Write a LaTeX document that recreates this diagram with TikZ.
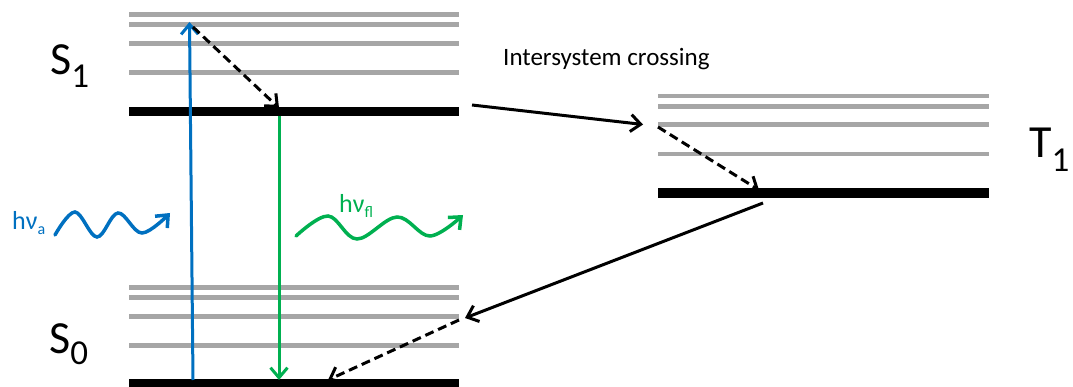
\documentclass[tikz,border=0pt]{standalone}
\usepackage{fontspec}
\setmainfont{Carlito}
\usetikzlibrary{arrows.meta}
\definecolor{lvlgray}{RGB}{166,166,166}
\definecolor{absblue}{RGB}{0,112,192}
\definecolor{flgreen}{RGB}{0,176,80}
\begin{document}
\begin{tikzpicture}[x=1pt,y=-1pt,
  graylevel/.style={draw=lvlgray,line width=4.5pt},
  mainlevel/.style={draw=black,line width=9.5pt},
  tipbarb/.style={-{Straight Barb[length=10pt,width=17pt]}},
  arr/.style={tipbarb,line width=3pt},
  dasharr/.style={tipbarb,line width=3pt,dash pattern=on 9pt off 5pt},
  bluearr/.style={tipbarb,line width=3pt,draw=absblue},
  greenarr/.style={tipbarb,line width=3pt,draw=flgreen},
  wave/.style={tipbarb,line width=3.5pt,line cap=round},
  lab/.style={anchor=base west,inner sep=0pt}
]
\useasboundingbox (0,0) rectangle (1073,387);

% S1 manifold
\foreach \yy in {14.5,24.5,43.5,72.5} \draw[graylevel] (129,\yy) -- (459,\yy);
\draw[mainlevel] (129,111.5) -- (459,111.5);
% S0 manifold
\foreach \yy in {287.5,297.5,316.5,345.5} \draw[graylevel] (129,\yy) -- (459,\yy);
\draw[mainlevel] (129,384) -- (459,384);
% T1 manifold
\foreach \yy in {96,106.5,124.5,154} \draw[graylevel] (658,\yy) -- (989,\yy);
\draw[mainlevel] (658,193) -- (989,193);

% labels
\node[lab] (S1lab) at (50,75) {\fontsize{46}{46}\selectfont S\raisebox{-13pt}{\fontsize{35}{35}\selectfont 1}};
\node[lab] (S0lab) at (49,353) {\fontsize{46}{46}\selectfont S\raisebox{-11pt}{\fontsize{35}{35}\selectfont 0}};
\node[lab] (T1lab) at (1029,158) {\fontsize{46}{46}\selectfont T\raisebox{-14pt}{\fontsize{35}{35}\selectfont 1}};
\node[lab] (isc) at (503,66) {\fontsize{25}{25}\selectfont Intersystem crossing};
\node[lab,text=absblue] (hva) at (12,230) {\fontsize{26}{26}\selectfont hν\raisebox{-5pt}{\fontsize{16}{16}\selectfont a}};
\node[lab,text=flgreen] (hvfl) at (339,213) {\fontsize{26}{26}\selectfont hν\raisebox{-5pt}{\fontsize{16}{16}\selectfont fl}};

% coordinates for transitions
\coordinate (absS) at (193,380);
\coordinate (absE) at (189.5,22);
\coordinate (vrS) at (193,27);
\coordinate (vrE) at (279,108);
\coordinate (flS) at (279,116);
\coordinate (flE) at (279,380);
\coordinate (iscS) at (472,105);
\coordinate (iscE) at (643,124.5);
\coordinate (tvrS) at (658,127);
\coordinate (tvrE) at (759,190);
\coordinate (phS) at (763,203);
\coordinate (phE) at (465,318);
\coordinate (gvrS) at (459,320);
\coordinate (gvrE) at (328,380);

\draw[bluearr] (absS) -- (absE);
\draw[dasharr] (vrS) -- (vrE);
\draw[greenarr] (flS) -- (flE);
\draw[arr] (iscS) -- (iscE);
\draw[dasharr] (tvrS) -- (tvrE);
\draw[arr] (phS) -- (phE);
\draw[dasharr] (gvrS) -- (gvrE);

% photon waves
\draw[wave,draw=absblue] plot[smooth,tension=0.6] coordinates {(55,235) (75,212) (97,237) (118,213) (142,233) (170,213)};
\draw[wave,draw=flgreen] plot[smooth,tension=0.6] coordinates {(296,236) (328,216) (357,239) (397,217) (430,236) (463,215)};
\end{tikzpicture}
\end{document}
